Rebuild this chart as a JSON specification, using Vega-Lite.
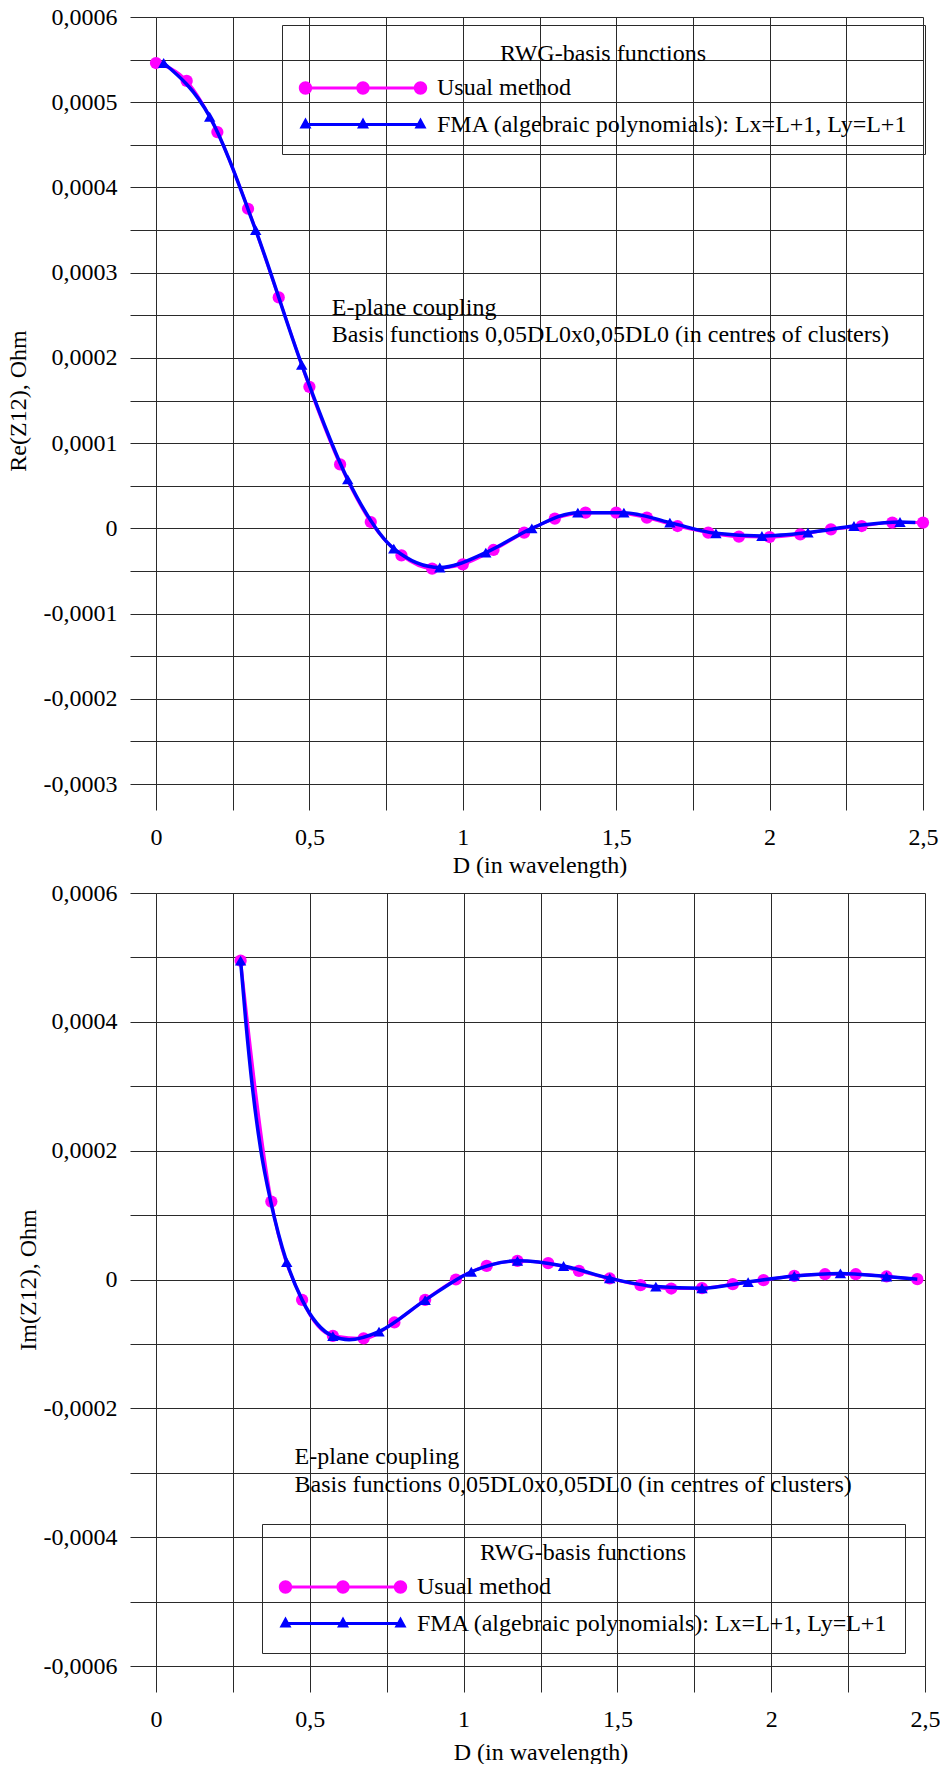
{
  "$schema": "https://vega.github.io/schema/vega-lite/v6.json",
  "background": "white",
  "padding": {"left": 6, "top": 5, "right": 0, "bottom": 0},
  "config": {
    "font": "Liberation Serif, Times New Roman, serif",
    "view": {"stroke": null},
    "text": {"font": "Liberation Serif, Times New Roman, serif"},
    "axis": {
      "labelFont": "Liberation Serif, Times New Roman, serif", "labelFontSize": 24, "labelColor": "black",
      "titleFont": "Liberation Serif, Times New Roman, serif", "titleFontSize": 24, "titleFontWeight": "normal", "titleColor": "black",
      "gridColor": "#2a2a2a", "gridWidth": 1, "gridOpacity": 1,
      "tickColor": "#2a2a2a", "tickWidth": 1, "tickSize": 26,
      "domainColor": "#2a2a2a", "domainWidth": 1,
      "labelFlush": false, "labelOverlap": false, "labelBound": false
    },
    "legend": {
      "titleFont": "Liberation Serif, Times New Roman, serif", "labelFont": "Liberation Serif, Times New Roman, serif"
    }
  },
  "datasets": {
    "reUsual": [
      {"d": 0, "v": 0.000546}, {"d": 0.1, "v": 0.000525}, {"d": 0.2, "v": 0.000465}, {"d": 0.3, "v": 0.000375},
      {"d": 0.4, "v": 0.000271}, {"d": 0.5, "v": 0.000166}, {"d": 0.6, "v": 0.000075}, {"d": 0.7, "v": 0.0000074},
      {"d": 0.8, "v": -0.0000317}, {"d": 0.9, "v": -0.0000473}, {"d": 1.0, "v": -0.0000422}, {"d": 1.1, "v": -0.0000254},
      {"d": 1.2, "v": -0.000005}, {"d": 1.3, "v": 0.0000114}, {"d": 1.4, "v": 0.0000184}, {"d": 1.5, "v": 0.0000184},
      {"d": 1.6, "v": 0.0000125}, {"d": 1.7, "v": 0.0000027}, {"d": 1.8, "v": -0.000005}, {"d": 1.9, "v": -0.0000097},
      {"d": 2.0, "v": -0.0000102}, {"d": 2.1, "v": -0.000007}, {"d": 2.2, "v": -0.0000012}, {"d": 2.3, "v": 0.0000027},
      {"d": 2.4, "v": 0.0000067}, {"d": 2.5, "v": 0.0000067}
    ],
    "reFMA": [
      {"d": 0.025, "v": 0.000546}, {"d": 0.175, "v": 0.000483}, {"d": 0.325, "v": 0.00035}, {"d": 0.475, "v": 0.000192},
      {"d": 0.625, "v": 0.0000574}, {"d": 0.775, "v": -0.0000238}, {"d": 0.925, "v": -0.000046}, {"d": 1.075, "v": -0.0000285},
      {"d": 1.225, "v": 0.0}, {"d": 1.375, "v": 0.0000184}, {"d": 1.525, "v": 0.0000184}, {"d": 1.675, "v": 0.0000067},
      {"d": 1.825, "v": -0.0000059}, {"d": 1.975, "v": -0.000009}, {"d": 2.125, "v": -0.000005}, {"d": 2.275, "v": 0.0000027},
      {"d": 2.425, "v": 0.0000074}
    ],
    "reFMALine": [
      {"d": 0.025, "v": 0.000546}, {"d": 0.175, "v": 0.000483}, {"d": 0.325, "v": 0.00035}, {"d": 0.475, "v": 0.000192},
      {"d": 0.625, "v": 0.0000574}, {"d": 0.775, "v": -0.0000238}, {"d": 0.925, "v": -0.000046}, {"d": 1.075, "v": -0.0000285},
      {"d": 1.225, "v": 0.0}, {"d": 1.375, "v": 0.0000184}, {"d": 1.525, "v": 0.0000184}, {"d": 1.675, "v": 0.0000067},
      {"d": 1.825, "v": -0.0000059}, {"d": 1.975, "v": -0.000009}, {"d": 2.125, "v": -0.000005}, {"d": 2.275, "v": 0.0000027},
      {"d": 2.425, "v": 0.0000074}, {"d": 2.475, "v": 0.0000068}
    ],
    "reNote": [
      {"d": 0.573, "v": 0.000259, "t": "E-plane coupling"},
      {"d": 0.573, "v": 0.000227, "t": "Basis functions 0,05DL0x0,05DL0 (in centres of clusters)"}
    ],
    "imUsual": [
      {"d": 0.275, "v": 0.000495}, {"d": 0.375, "v": 0.000121}, {"d": 0.475, "v": -0.0000316}, {"d": 0.575, "v": -0.0000874},
      {"d": 0.675, "v": -0.0000915}, {"d": 0.775, "v": -0.0000667}, {"d": 0.875, "v": -0.0000316}, {"d": 0.975, "v": 0.0},
      {"d": 1.075, "v": 0.0000211}, {"d": 1.175, "v": 0.0000288}, {"d": 1.275, "v": 0.0000253}, {"d": 1.375, "v": 0.0000133},
      {"d": 1.475, "v": 0.0000016}, {"d": 1.575, "v": -0.0000088}, {"d": 1.675, "v": -0.000014}, {"d": 1.775, "v": -0.0000135},
      {"d": 1.875, "v": -0.0000073}, {"d": 1.975, "v": -0.000001}, {"d": 2.075, "v": 0.0000056}, {"d": 2.175, "v": 0.0000082},
      {"d": 2.275, "v": 0.0000082}, {"d": 2.375, "v": 0.0000047}, {"d": 2.475, "v": 0.0000005}
    ],
    "imFMA": [
      {"d": 0.275, "v": 0.000495}, {"d": 0.425, "v": 0.000027}, {"d": 0.575, "v": -0.000088}, {"d": 0.725, "v": -0.000081},
      {"d": 0.875, "v": -0.000032}, {"d": 1.025, "v": 0.000012}, {"d": 1.175, "v": 0.000029}, {"d": 1.325, "v": 0.000021},
      {"d": 1.475, "v": 0.000002}, {"d": 1.625, "v": -0.000011}, {"d": 1.775, "v": -0.0000135}, {"d": 1.925, "v": -0.000004},
      {"d": 2.075, "v": 0.0000056}, {"d": 2.225, "v": 0.0000095}, {"d": 2.375, "v": 0.0000047}
    ],
    "imFMALine": [
      {"d": 0.275, "v": 0.000495}, {"d": 0.292, "v": 0.0004}, {"d": 0.313, "v": 0.0003}, {"d": 0.341, "v": 0.0002},
      {"d": 0.373, "v": 0.000121}, {"d": 0.425, "v": 0.000027}, {"d": 0.475, "v": -0.0000316}, {"d": 0.575, "v": -0.000088},
      {"d": 0.628, "v": -0.0000936}, {"d": 0.725, "v": -0.000081},
      {"d": 0.875, "v": -0.000032}, {"d": 1.025, "v": 0.000012}, {"d": 1.175, "v": 0.000029}, {"d": 1.325, "v": 0.000021},
      {"d": 1.475, "v": 0.000002}, {"d": 1.625, "v": -0.000011}, {"d": 1.775, "v": -0.0000135}, {"d": 1.925, "v": -0.000004},
      {"d": 2.075, "v": 0.0000056}, {"d": 2.225, "v": 0.0000095}, {"d": 2.375, "v": 0.0000047}, {"d": 2.475, "v": 0.0000005}
    ],
    "imNote": [
      {"d": 0.4505, "v": -0.0002755, "t": "E-plane coupling"},
      {"d": 0.4505, "v": -0.0003184, "t": "Basis functions 0,05DL0x0,05DL0 (in centres of clusters)"}
    ],
    "legendRows": [
      {"series": "Usual method"},
      {"series": "FMA (algebraic polynomials): Lx=L+1, Ly=L+1"}
    ]
  },
  "columns": 1,
  "align": "none",
  "spacing": 4,
  "resolve": {"scale": {"color": "independent", "shape": "independent"}},
  "concat": [
    {
      "width": 767,
      "height": 767,
      "layer": [
        {
          "data": {"name": "reUsual"},
          "mark": {"type": "line", "color": "#ff00ff", "strokeWidth": 3, "interpolate": "monotone"},
          "encoding": {
            "x": {
              "field": "d", "type": "quantitative",
              "scale": {"domain": [0, 2.5], "nice": false, "zero": false},
              "axis": {
                "title": "D (in wavelength)",
                "values": [0, 0.25, 0.5, 0.75, 1, 1.25, 1.5, 1.75, 2, 2.25, 2.5],
                "grid": true, "tickSize": 26, "labelPadding": 15, "titlePadding": 4,
                "labelExpr": "abs(datum.value*2 - round(datum.value*2)) < 1e-6 ? replace(format(datum.value, '~g'), '.', ',') : ''",
                "encode": {
                  "ticks": {"update": {"y2": {"signal": "abs(datum.value*2 - round(datum.value*2)) < 1e-6 ? 26 : 13"}}},
                  "grid": {"update": {"strokeOpacity": {"signal": "abs(datum.value*2 - round(datum.value*2)) < 1e-6 ? 1 : 0"}}}
                }
              }
            },
            "y": {
              "field": "v", "type": "quantitative",
              "scale": {"domain": [-0.0003, 0.0006], "nice": false, "zero": false},
              "axis": {
                "title": "Re(Z12), Ohm",
                "values": [-0.0003, -0.00025, -0.0002, -0.00015, -0.0001, -0.00005, 0, 0.00005, 0.0001, 0.00015, 0.0002, 0.00025, 0.0003, 0.00035, 0.0004, 0.00045, 0.0005, 0.00055, 0.0006],
                "grid": true, "tickSize": 26, "labelPadding": 13, "titlePadding": 13,
                "labelExpr": "abs(datum.value*10000 - round(datum.value*10000)) < 1e-6 ? (datum.value < 0 ? '-' : '') + replace(format(abs(datum.value), '.4~f'), '.', ',') : ''",
                "encode": {
                  "ticks": {"update": {"x2": {"signal": "abs(datum.value*10000 - round(datum.value*10000)) < 1e-6 ? -26 : -13"}}},
                  "grid": {"update": {"strokeOpacity": {"signal": "abs(datum.value*10000 - round(datum.value*10000)) < 1e-6 ? 1 : 0"}}}
                }
              }
            }
          }
        },
        {
          "data": {"name": "reUsual"},
          "mark": {"type": "point", "shape": "circle", "filled": true, "color": "#ff00ff", "size": 150, "opacity": 1, "strokeWidth": 0},
          "encoding": {"x": {"field": "d", "type": "quantitative"}, "y": {"field": "v", "type": "quantitative"}}
        },
        {
          "data": {"name": "reFMALine"},
          "mark": {"type": "line", "color": "#0000ff", "strokeWidth": 3.5, "interpolate": "monotone"},
          "encoding": {"x": {"field": "d", "type": "quantitative"}, "y": {"field": "v", "type": "quantitative"}}
        },
        {
          "data": {"name": "reFMA"},
          "mark": {"type": "point", "shape": "triangle-up", "filled": true, "color": "#0000ff", "size": 130, "opacity": 1, "strokeWidth": 0},
          "encoding": {"x": {"field": "d", "type": "quantitative"}, "y": {"field": "v", "type": "quantitative"}}
        },
        {
          "data": {"name": "reNote"},
          "mark": {"type": "text", "align": "left", "baseline": "middle", "font": "Liberation Serif, Times New Roman, serif", "fontSize": 24, "color": "black"},
          "encoding": {"x": {"field": "d", "type": "quantitative"}, "y": {"field": "v", "type": "quantitative"}, "text": {"field": "t"}}
        },
        {
          "data": {"name": "legendRows"},
          "transform": [{"filter": "false"}],
          "mark": {"type": "point", "filled": true, "opacity": 1, "strokeWidth": 0},
          "encoding": {
            "color": {
              "field": "series", "type": "nominal",
              "scale": {"domain": ["Usual method", "FMA (algebraic polynomials): Lx=L+1, Ly=L+1"], "range": ["#ff00ff", "#0000ff"]},
              "legend": {
                "title": "RWG-basis functions", "orient": "none", "legendX": 126, "legendY": 8,
                "padding": 17, "strokeColor": "#2a2a2a", "titleAnchor": "middle",
                "titleFontSize": 24, "titleFontWeight": "normal", "titleColor": "black", "titleLimit": 1000, "titlePadding": 10,
                "labelFontSize": 24, "labelColor": "black", "labelLimit": 1000,
                "labelOffset": 62, "symbolOffset": 52, "symbolSize": 4, "symbolStrokeWidth": 0, "rowPadding": 12.6
              }
            },
            "shape": {
              "field": "series", "type": "nominal",
              "scale": {"domain": ["Usual method", "FMA (algebraic polynomials): Lx=L+1, Ly=L+1"], "range": [
                "M-57.5,-1.5L57.5,-1.5L57.5,1.5L-57.5,1.5ZM-64.2,0A6.7,6.7,0,1,1,-50.8,0A6.7,6.7,0,1,1,-64.2,0ZM-6.7,0A6.7,6.7,0,1,1,6.7,0A6.7,6.7,0,1,1,-6.7,0ZM50.8,0A6.7,6.7,0,1,1,64.2,0A6.7,6.7,0,1,1,50.8,0Z",
                "M-57.5,-1.5L57.5,-1.5L57.5,1.5L-57.5,1.5ZM-57.5,-7L-51.5,4L-63.5,4ZM0,-7L6,4L-6,4ZM57.5,-7L63.5,4L51.5,4Z"
              ]},
              "legend": {
                "title": "RWG-basis functions", "orient": "none", "legendX": 126, "legendY": 8,
                "padding": 17, "strokeColor": "#2a2a2a", "titleAnchor": "middle",
                "titleFontSize": 24, "titleFontWeight": "normal", "titleColor": "black", "titleLimit": 1000, "titlePadding": 10,
                "labelFontSize": 24, "labelColor": "black", "labelLimit": 1000,
                "labelOffset": 62, "symbolOffset": 52, "symbolSize": 4, "symbolStrokeWidth": 0, "rowPadding": 12.6
              }
            }
          }
        }
      ]
    },
    {
      "width": 769,
      "height": 773,
      "layer": [
        {
          "data": {"name": "imUsual"},
          "mark": {"type": "line", "color": "#ff00ff", "strokeWidth": 3, "interpolate": "monotone"},
          "encoding": {
            "x": {
              "field": "d", "type": "quantitative",
              "scale": {"domain": [0, 2.5], "nice": false, "zero": false},
              "axis": {
                "title": "D (in wavelength)",
                "values": [0, 0.25, 0.5, 0.75, 1, 1.25, 1.5, 1.75, 2, 2.25, 2.5],
                "grid": true, "tickSize": 26, "labelPadding": 15, "titlePadding": 9,
                "labelExpr": "abs(datum.value*2 - round(datum.value*2)) < 1e-6 ? replace(format(datum.value, '~g'), '.', ',') : ''",
                "encode": {
                  "ticks": {"update": {"y2": {"signal": "abs(datum.value*2 - round(datum.value*2)) < 1e-6 ? 26 : 13"}}},
                  "grid": {"update": {"strokeOpacity": {"signal": "abs(datum.value*2 - round(datum.value*2)) < 1e-6 ? 1 : 0"}}}
                }
              }
            },
            "y": {
              "field": "v", "type": "quantitative",
              "scale": {"domain": [-0.0006, 0.0006], "nice": false, "zero": false},
              "axis": {
                "title": "Im(Z12), Ohm",
                "values": [-0.0006, -0.0005, -0.0004, -0.0003, -0.0002, -0.0001, 0, 0.0001, 0.0002, 0.0003, 0.0004, 0.0005, 0.0006],
                "grid": true, "tickSize": 26, "labelPadding": 13, "titlePadding": 3,
                "labelExpr": "abs(datum.value*5000 - round(datum.value*5000)) < 1e-6 ? (datum.value < 0 ? '-' : '') + replace(format(abs(datum.value), '.4~f'), '.', ',') : ''",
                "encode": {
                  "ticks": {"update": {"x2": {"signal": "abs(datum.value*5000 - round(datum.value*5000)) < 1e-6 ? -26 : -13"}}},
                  "grid": {"update": {"strokeOpacity": {"signal": "abs(datum.value*5000 - round(datum.value*5000)) < 1e-6 ? 1 : 0"}}}
                }
              }
            }
          }
        },
        {
          "data": {"name": "imUsual"},
          "mark": {"type": "point", "shape": "circle", "filled": true, "color": "#ff00ff", "size": 150, "opacity": 1, "strokeWidth": 0},
          "encoding": {"x": {"field": "d", "type": "quantitative"}, "y": {"field": "v", "type": "quantitative"}}
        },
        {
          "data": {"name": "imFMALine"},
          "mark": {"type": "line", "color": "#0000ff", "strokeWidth": 3.5, "interpolate": "monotone"},
          "encoding": {"x": {"field": "d", "type": "quantitative"}, "y": {"field": "v", "type": "quantitative"}}
        },
        {
          "data": {"name": "imFMA"},
          "mark": {"type": "point", "shape": "triangle-up", "filled": true, "color": "#0000ff", "size": 130, "opacity": 1, "strokeWidth": 0},
          "encoding": {"x": {"field": "d", "type": "quantitative"}, "y": {"field": "v", "type": "quantitative"}}
        },
        {
          "data": {"name": "imNote"},
          "mark": {"type": "text", "align": "left", "baseline": "middle", "font": "Liberation Serif, Times New Roman, serif", "fontSize": 24, "color": "black"},
          "encoding": {"x": {"field": "d", "type": "quantitative"}, "y": {"field": "v", "type": "quantitative"}, "text": {"field": "t"}}
        },
        {
          "data": {"name": "legendRows"},
          "transform": [{"filter": "false"}],
          "mark": {"type": "point", "filled": true, "opacity": 1, "strokeWidth": 0},
          "encoding": {
            "color": {
              "field": "series", "type": "nominal",
              "scale": {"domain": ["Usual method", "FMA (algebraic polynomials): Lx=L+1, Ly=L+1"], "range": ["#ff00ff", "#0000ff"]},
              "legend": {
                "title": "RWG-basis functions", "orient": "none", "legendX": 106, "legendY": 631,
                "padding": 17, "strokeColor": "#2a2a2a", "titleAnchor": "middle",
                "titleFontSize": 24, "titleFontWeight": "normal", "titleColor": "black", "titleLimit": 1000, "titlePadding": 10,
                "labelFontSize": 24, "labelColor": "black", "labelLimit": 1000,
                "labelOffset": 62, "symbolOffset": 52, "symbolSize": 4, "symbolStrokeWidth": 0, "rowPadding": 12.6
              }
            },
            "shape": {
              "field": "series", "type": "nominal",
              "scale": {"domain": ["Usual method", "FMA (algebraic polynomials): Lx=L+1, Ly=L+1"], "range": [
                "M-57.5,-1.5L57.5,-1.5L57.5,1.5L-57.5,1.5ZM-64.2,0A6.7,6.7,0,1,1,-50.8,0A6.7,6.7,0,1,1,-64.2,0ZM-6.7,0A6.7,6.7,0,1,1,6.7,0A6.7,6.7,0,1,1,-6.7,0ZM50.8,0A6.7,6.7,0,1,1,64.2,0A6.7,6.7,0,1,1,50.8,0Z",
                "M-57.5,-1.5L57.5,-1.5L57.5,1.5L-57.5,1.5ZM-57.5,-7L-51.5,4L-63.5,4ZM0,-7L6,4L-6,4ZM57.5,-7L63.5,4L51.5,4Z"
              ]},
              "legend": {
                "title": "RWG-basis functions", "orient": "none", "legendX": 106, "legendY": 631,
                "padding": 17, "strokeColor": "#2a2a2a", "titleAnchor": "middle",
                "titleFontSize": 24, "titleFontWeight": "normal", "titleColor": "black", "titleLimit": 1000, "titlePadding": 10,
                "labelFontSize": 24, "labelColor": "black", "labelLimit": 1000,
                "labelOffset": 62, "symbolOffset": 52, "symbolSize": 4, "symbolStrokeWidth": 0, "rowPadding": 12.6
              }
            }
          }
        }
      ]
    }
  ]
}
